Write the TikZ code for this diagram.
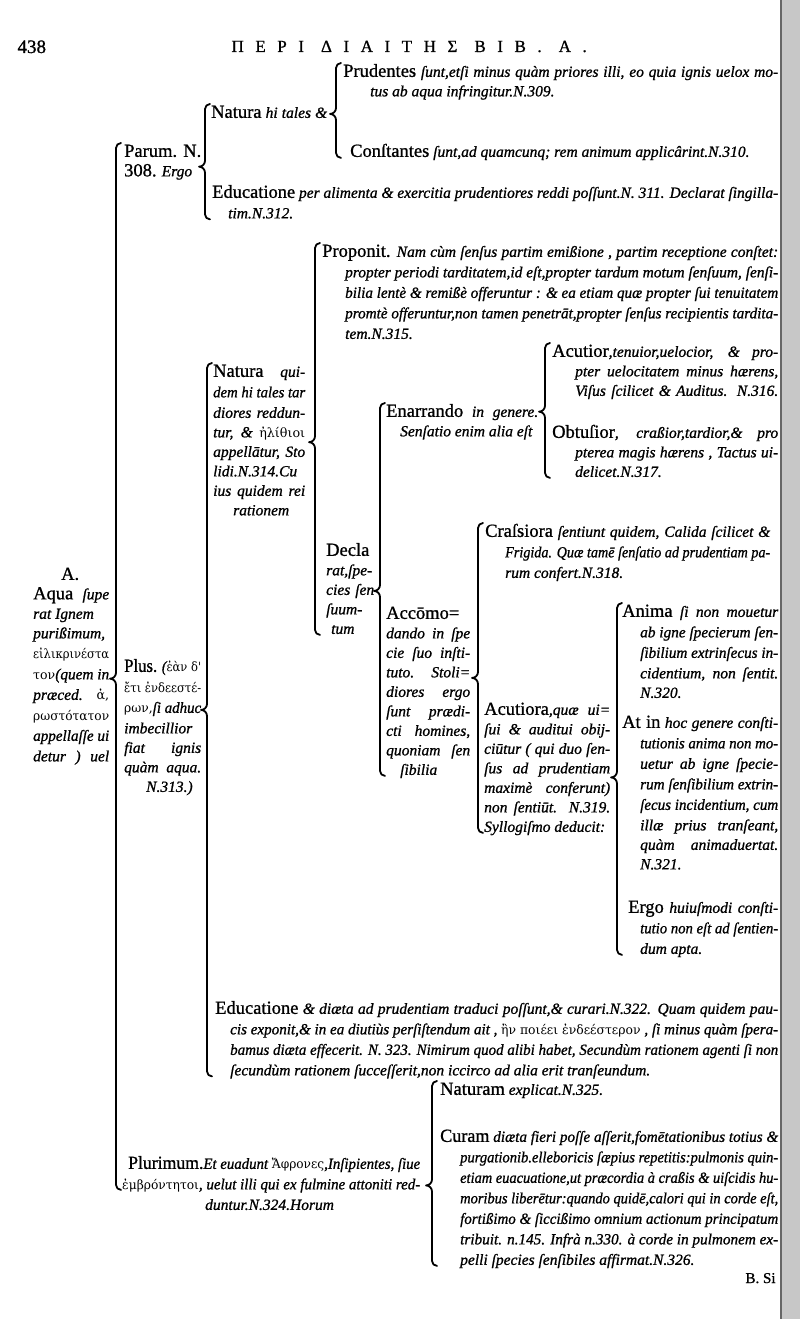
\documentclass[tikz,border=0pt]{standalone}
\usepackage{fontspec}
\setmainfont{Liberation Serif}[FakeBold=1]
\newfontfamily\grk{DejaVu Serif}[Scale=0.82]
\usepackage{tikz}
\usetikzlibrary{calc}
\hbadness=10000 \hfuzz=20pt
\newcommand{\tfont}{\fontsize{15.5}{19.5}\selectfont\itshape}
\newcommand{\hd}[1]{{\upshape\fontsize{18.5}{19.5}\selectfont #1}}
\newcommand{\gk}[1]{{\grk\upshape #1}}
% column of printed lines, squeezed where a line is too long
\newsavebox{\lnbox}
\newdimen\lnw
\newcommand{\fitto}[1]{\sbox\lnbox{#1}%
  \ifdim\wd\lnbox>\lnw\resizebox{\lnw}{\height}{\usebox\lnbox}\else\hbox to\lnw{#1}\fi}
\newcommand{\blk}[2]{\vtop{\hsize=#1pt\relax#2}}
\newcommand{\jl}[1]{\hbox{\lnw=\hsize\fitto{\strut#1}}}
\newcommand{\ji}[2]{\hbox{\strut\hskip#1pt\relax\lnw=\dimexpr\hsize-#1pt\relax\fitto{\strut#2}}}
\newcommand{\el}[1]{\hbox{\strut#1}}
\newcommand{\ei}[2]{\hbox{\strut\hskip#1pt\relax#2}}
% brace: parent, first child, last child, gap, tip shift, bottom shift
\newcommand{\brak}[6]{%
  \draw[brc] let \p1=(#2.north west), \p2=(#3.south west), \p3=(#1.east) in
    ({\x1-#4+5},{\y1}) to[out=180,in=90] ({\x1-#4},{\y1-5})
    -- ({\x1-#4},{\y3+(#5)+6}) to[out=-90,in=0] ({\x1-#4-6},{\y3+(#5)})
    to[out=0,in=90] ({\x1-#4},{\y3+(#5)-6})
    -- ({\x1-#4},{\y2+(#6)+10}) to[out=-90,in=180] ({\x1-#4+5},{\y2+(#6)+5});}

\begin{document}
\begin{tikzpicture}[x=1pt,y=1pt]
\tikzstyle{txt}=[anchor=north west, inner sep=0pt, font=\tfont]
\tikzstyle{brc}=[line width=1.8pt, line cap=round, line join=round]

\useasboundingbox (0,0) rectangle (800,-1319);
\fill[white] (0,0) rectangle (800,-1319);
\fill[black!22] (781,0) rectangle (800,-1319);
\draw[black!60, line width=1.2pt] (781,0) -- (781,-1319);

\node[anchor=base west, font=\fontsize{19}{20}\selectfont] (pag) at (14,-53) {438};
\node[anchor=base west, font=\fontsize{17}{20}\selectfont\addfontfeature{LetterSpace=68}] (tit) at (228,-52) {ΠΕΡΙ\quad ΔΙΑΙΤΗΣ\quad ΒΙΒ.\quad Α.};

\node[txt] (prud) at (343,-63) {\blk{435}{\jl{\hd{Prudentes} ſunt,etſi minus quàm priores illi, eo quia ignis uelox mo-}\ei{27}{tus ab aqua infringitur.N.309.}}};
\node[txt] (nat) at (211,-104) {\blk{116}{\jl{\hd{Natura} hi tales \&}}};
\node[txt] (const) at (350,-143) {\blk{428}{\el{\hd{Conſtantes} ſunt,ad quamcunq; rem animum applicârint.N.310.}}};
\node[txt] (parum) at (124,-143) {\blk{78}{\el{\hd{Parum. N.}}\el{\hd{308.} Ergo}}};
\node[txt] (educ) at (212,-184) {\blk{566}{\jl{\hd{Educatione} per alimenta \& exercitia prudentiores reddi poſſunt.N. 311. Declarat ſingilla-}\ei{16}{tim.N.312.}}};

\node[txt] (prop) at (322,-243) {\blk{456}{\jl{\hd{Proponit.} Nam cùm ſenſus partim emißione , partim receptione conſtet:}\ji{23}{propter periodi tarditatem,id eſt,propter tardum motum ſenſuum, ſenſi-}\ji{23}{bilia lentè \& remißè offeruntur : \& ea etiam quæ propter ſui tenuitatem}\ji{23}{promtè offeruntur,non tamen penetrāt,propter ſenſus recipientis tardita-}\ei{23}{tem.N.315.}}};
\node[txt] (acutior) at (552,-343) {\blk{226}{\jl{\hd{Acutior},tenuior,uelocior, \& pro-}\ji{23}{pter uelocitatem minus hærens,}\ji{23}{Viſus ſcilicet \& Auditus. N.316.}}};
\node[txt] (natq) at (213,-363) {\blk{92}{\jl{\hd{Natura} qui-}\jl{dem hi tales tar}\jl{diores reddun-}\jl{tur, \& \gk{ἠλίθιοι}}\jl{appellātur, Sto}\jl{lidi.N.314.Cu}\jl{ius quidem rei}\ei{20}{rationem}}};
\node[txt] (enar) at (386,-403) {\blk{152}{\jl{\hd{Enarrando} in genere.}\ei{14}{Senſatio enim alia eſt}}};
\node[txt] (obtus) at (552,-424) {\blk{226}{\jl{\hd{Obtuſior}, craßior,tardior,\& pro}\ji{23}{pterea magis hærens , Tactus ui-}\ei{23}{delicet.N.317.}}};
\node[txt] (crass) at (485,-523) {\blk{285}{\jl{\hd{Craſsiora} ſentiunt quidem, Calida ſcilicet \&}\ji{20}{Frigida. Quæ tamē ſenſatio ad prudentiam pa-}\ei{20}{rum confert.N.318.}}};
\node[txt] (decl) at (326,-542) {\blk{48}{\el{\hd{Decla}}\el{rat,ſpe-}\jl{cies ſen}\el{ſuum-}\ei{5}{tum}}};
\node[txt] (aqua) at (33,-566) {\blk{76}{\ei{28}{\hd{A.}}\jl{\hd{Aqua} ſupe}\el{rat Ignem}\el{purißimum,}\jl{\gk{εἰλικρινέστα}}\jl{\gk{τον}(quem in}\jl{præced. \gk{ἀ,}}\jl{\gk{ρωστότατον}}\jl{appellaſſe ui}\jl{detur ) uel}}};
\node[txt] (anima) at (622,-603) {\blk{156}{\jl{\hd{Anima} ſi non mouetur}\ji{18}{ab igne ſpecierum ſen-}\ji{18}{ſibilium extrinſecus in-}\ji{18}{cidentium, non ſentit.}\ei{18}{N.320.}}};
\node[txt] (accom) at (386,-605) {\blk{84}{\el{\hd{Accōmo=}}\jl{dando in ſpe}\jl{cie ſuo inſti-}\jl{tuto. Stoli=}\jl{diores ergo}\jl{ſunt prædi-}\jl{cti homines,}\jl{quoniam ſen}\ei{14}{ſibilia}}};
\node[txt] (plus) at (124,-658) {\blk{77}{\jl{\hd{Plus.} (\gk{ἐὰν δ'}}\jl{\gk{ἔτι ἐνδεεστέ-}}\jl{\gk{ρων,}ſi adhuc}\el{imbecillior}\jl{fiat ignis}\jl{quàm aqua.}\ei{22}{N.313.)}}};
\node[txt] (acut) at (484,-701) {\blk{126}{\jl{\hd{Acutiora},quæ ui=}\jl{ſui \& auditui obij-}\jl{ciūtur ( qui duo ſen-}\jl{ſus ad prudentiam}\jl{maximè conferunt)}\jl{non ſentiūt. N.319.}\el{Syllogiſmo deducit:}}};
\node[txt] (athoc) at (622,-714) {\blk{156}{\jl{\hd{At in} hoc genere conſti-}\ji{18}{tutionis anima non mo-}\ji{18}{uetur ab igne ſpecie-}\ji{18}{rum ſenſibilium extrin-}\ji{18}{ſecus incidentium, cum}\ji{18}{illæ prius tranſeant,}\ji{18}{quàm animaduertat.}\ei{18}{N.321.}}};
\node[txt] (ergo) at (628,-899) {\blk{150}{\jl{\hd{Ergo} huiuſmodi conſti-}\ji{12}{tutio non eſt ad ſentien-}\ei{12}{dum apta.}}};

\node[txt] (educb) at (215,-1000) {\blk{563}{\jl{\hd{Educatione} \& diæta ad prudentiam traduci poſſunt,\& curari.N.322. Quam quidem pau-}\ji{15}{cis exponit,\& in ea diutiùs perſiſtendum ait , \gk{ἢν ποιέει ἐνδεέστερον} , ſi minus quàm ſpera-}\ji{15}{bamus diæta effecerit. N. 323. Nimirum quod alibi habet, Secundùm rationem agenti ſi non}\ei{15}{ſecundùm rationem ſucceſſerit,non iccirco ad alia erit tranſeundum.}}};
\node[txt] (natur) at (440,-1081) {\blk{338}{\el{\hd{Naturam} explicat.N.325.}}};
\node[txt] (curam) at (440,-1128) {\baselineskip=20.5pt\blk{338}{\jl{\hd{Curam} diæta fieri poſſe aſſerit,fomētationibus totius \&}\ji{20}{purgationib.elleboricis ſæpius repetitis:pulmonis quin-}\ji{20}{etiam euacuatione,ut præcordia à craßis \& uiſcidis hu-}\ji{20}{moribus liberētur:quando quidē,calori qui in corde eſt,}\ji{20}{fortißimo \& ſiccißimo omnium actionum principatum}\ji{20}{tribuit. n.145. Infrà n.330. à corde in pulmonem ex-}\ei{20}{pelli ſpecies ſenſibiles affirmat.N.326.}}};
\node[txt] (plur) at (122,-1155) {\blk{298}{\ji{6}{\hd{Plurimum.}Et euadunt \gk{Ἄφρονες},Inſipientes, ſiue}\jl{\gk{ἐμβρόντητοι}, uelut illi qui ex fulmine attoniti red-}\ei{83}{duntur.N.324.Horum}}};
\node[anchor=base west, font=\fontsize{15}{16}\selectfont] (catch) at (742,-1283) {B. Si};

\brak{aqua}{parum}{plur}{8}{-12}{21}
\brak{parum}{nat}{educ}{6}{-4}{0}
\brak{nat}{prud}{const}{7}{0}{0}
\brak{plus}{natq}{educb}{6}{18}{0}
\brak{natq}{prop}{decl}{7}{0}{0}
\brak{decl}{enar}{accom}{6}{0}{0}
\brak{enar}{acutior}{obtus}{7}{11}{0}
\brak{accom}{crass}{acut}{7}{15}{0}
\brak{acut}{anima}{ergo}{5}{-8}{0}
\brak{plur}{natur}{curam}{8}{0}{0}
\end{tikzpicture}
\end{document}
